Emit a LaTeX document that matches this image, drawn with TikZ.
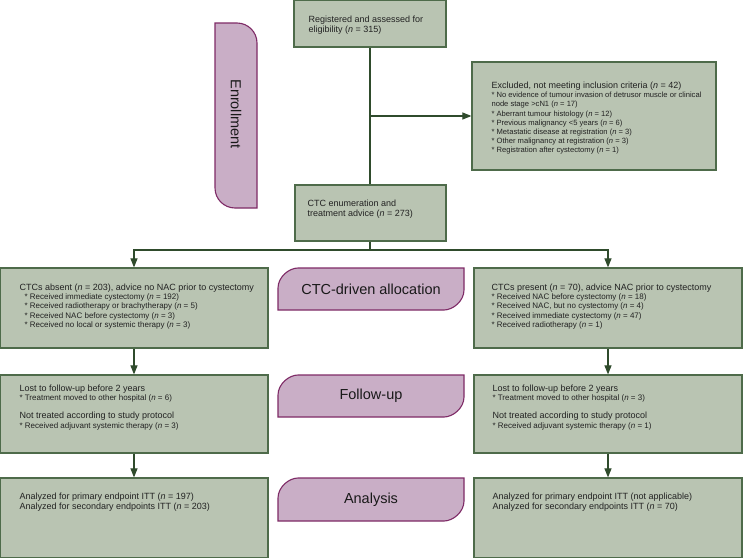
\documentclass[tikz,border=0pt]{standalone}
\usepackage{fontspec}
\setmainfont{Liberation Sans}
\usetikzlibrary{arrows.meta,positioning}
\definecolor{BoxFill}{HTML}{B9C4B2}
\definecolor{BoxLine}{HTML}{4E6B4A}
\definecolor{TabFill}{HTML}{C9AEC6}
\definecolor{TabLine}{HTML}{7E2A66}
\definecolor{LinkGreen}{HTML}{2F4B2C}
\definecolor{TextGrey}{HTML}{222222}
\newcommand{\nn}{\textit{n}}
\newcommand{\hd}[1]{{\fontsize{9}{10}\selectfont #1}}

\begin{document}
\begin{tikzpicture}[x=1pt,y=-1pt,-{Triangle[length=9pt,width=7pt]},line width=1.1pt]
   \useasboundingbox (0,0) rectangle (744,557);
   \tikzstyle{box}=[draw=BoxLine, fill=BoxFill, line width=1.2pt, inner sep=0]
   \tikzstyle{txt}=[anchor=north west, inner sep=0, align=left, text=TextGrey, font=\fontsize{8}{9.2}\selectfont]
   \tikzstyle{link}=[draw=LinkGreen, line width=1.1pt]
   \tikzstyle{tab}=[draw=TabLine, fill=TabFill, line width=1.1pt, -]
   \tikzstyle{tablabel}=[font=\fontsize{14.5}{16}\selectfont, text=black!90]
   % tabs
   \foreach \y/\h in {268/42,375/42,478/43} {
       \path[tab] (278,\y+\h) -- (278,\y+20) .. controls (278,\y+9) and (289,\y) .. (298,\y)
          -- (464,\y) -- (464,\y+\h-20) .. controls (464,\y+\h-9) and (453,\y+\h) .. (444,\y+\h) -- cycle;
   }
   \path[tab] (215,188) -- (215,23) -- (237,23) .. controls (248,23) and (257,32) .. (257,43)
      -- (257,208) -- (235,208) .. controls (224,208) and (215,199) .. (215,188) -- cycle;
   \node[tablabel, rotate=-90] (enroll) at (236,114) {Enrollment};
   \node[tablabel] (alloc) at (371,289) {CTC-driven allocation};
   \node[tablabel] (follow) at (371,396) {Follow-up};
   \node[tablabel] (analysis) at (371,499.5) {Analysis};
   % boxes
   \node[box, minimum width=152, minimum height=47] (reg) at (370,23.5) {};
   \node[box, minimum width=244, minimum height=108] (excl) at (594,116) {};
   \node[box, minimum width=151, minimum height=56] (enum) at (370.5,213) {};
   \foreach \col/\x in {L/134,R/608} {
       \node[box, minimum width=268, minimum height=80] (alloc\col) at (\x,308) {};
       \node[box, minimum width=268, minimum height=78] (follow\col) at (\x,414) {};
       \node[box, minimum width=268, minimum height=80] (ana\col) at (\x,518) {};
       \draw[link] (alloc\col) -- (follow\col);
       \draw[link] (follow\col) -- (ana\col);
   }
   % texts
   \node[txt] (regtxt) at (308,15) {\hd{Registered and assessed for}\\[1pt]\hd{eligibility (\nn{} = 315)}};
   \node[txt, font=\fontsize{7.6}{9.2}\selectfont] (excltxt) at (491,81) {\hd{Excluded, not meeting inclusion criteria (\nn{} = 42)}\\[0.5pt]
      * No evidence of tumour invasion of detrusor muscle or clinical\\
      node stage >cN1 (\nn{} = 17)\\
      * Aberrant tumour histology (\nn{} = 12)\\
      * Previous malignancy <5 years (\nn{} = 6)\\
      * Metastatic disease at registration (\nn{} = 3)\\
      * Other malignancy at registration (\nn{} = 3)\\
      * Registration after cystectomy (\nn{} = 1)};
   \node[txt] (enumtxt) at (307,199) {\hd{CTC enumeration and}\\[1pt]\hd{treatment advice (\nn{} = 273)}};
   \node[txt] (allocLtxt) at (19,283) {\hd{CTCs absent (\nn{} = 203), advice no NAC prior to cystectomy}\\[0.5pt]
      \hspace{5pt}* Received immediate cystectomy (\nn{} = 192)\\
      \hspace{5pt}* Received radiotherapy or brachytherapy (\nn{} = 5)\\
      \hspace{5pt}* Received NAC before cystectomy (\nn{} = 3)\\
      \hspace{5pt}* Received no local or systemic therapy (\nn{} = 3)};
   \node[txt] (allocRtxt) at (491,283) {\hd{CTCs present (\nn{} = 70), advice NAC prior to cystectomy}\\[0.5pt]
      * Received NAC before cystectomy (\nn{} = 18)\\
      * Received NAC, but no cystectomy (\nn{} = 4)\\
      * Received immediate cystectomy (\nn{} = 47)\\
      * Received radiotherapy (\nn{} = 1)};
   \node[txt] (followLtxt) at (19,384) {\hd{Lost to follow-up before 2 years}\\[0.5pt]
      * Treatment moved to other hospital (\nn{} = 6)\\[9pt]
      \hd{Not treated according to study protocol}\\[0.5pt]
      * Received adjuvant systemic therapy (\nn{} = 3)};
   \node[txt] (followRtxt) at (492,384) {\hd{Lost to follow-up before 2 years}\\[0.5pt]
      * Treatment moved to other hospital (\nn{} = 3)\\[9pt]
      \hd{Not treated according to study protocol}\\[0.5pt]
      * Received adjuvant systemic therapy (\nn{} = 1)};
   \node[txt] (anaLtxt) at (19,492) {\hd{Analyzed for primary endpoint ITT (\nn{} = 197)}\\[1pt]
      \hd{Analyzed for secondary endpoints ITT (\nn{} = 203)}};
   \node[txt] (anaRtxt) at (492,492) {\hd{Analyzed for primary endpoint ITT (not applicable)}\\[1pt]
      \hd{Analyzed for secondary endpoints ITT (\nn{} = 70)}};
   % connectors
   \coordinate (split) at (370,116);
   \coordinate (fork) at (370,250);
   \draw[link,-] (reg.south -| split) -- (enum.north -| split);
   \draw[link] (split) -- (excl);
   \draw[link,-] (enum.south -| fork) -- (fork);
   \draw[link] (fork) -| (allocL);
   \draw[link] (fork) -| (allocR);
\end{tikzpicture}
\end{document}
